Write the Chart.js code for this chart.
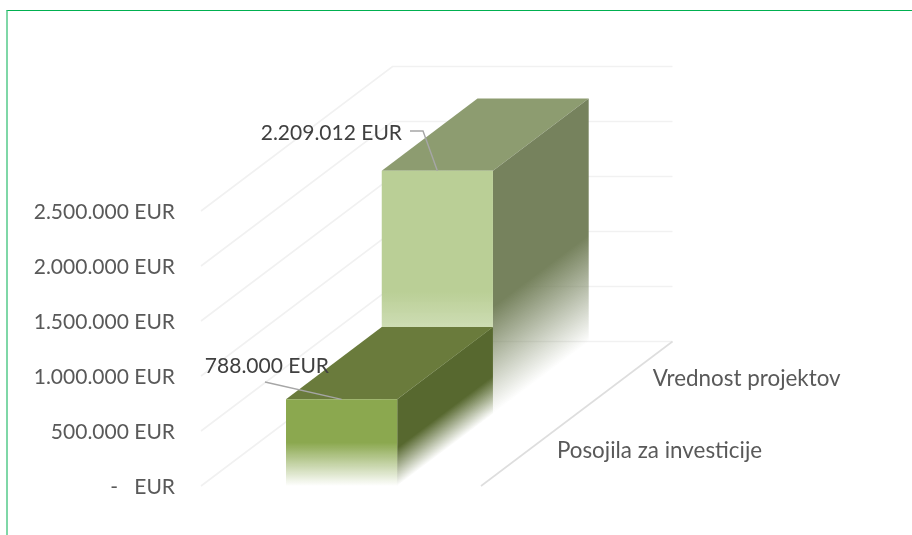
<!DOCTYPE html>
<html><head><meta charset="utf-8">
<style>
html,body{margin:0;padding:0;background:#fff;overflow:hidden}
#wrap{position:relative;width:912px;height:535px;overflow:hidden}
#frame{position:absolute;left:6px;top:10px;width:960px;height:560px;box-sizing:border-box;border:1px solid #00B050;border-left-color:#7FD7A7;border-left-width:2px}
canvas{position:absolute;left:0;top:0}
</style>
<script src="https://cdn.jsdelivr.net/npm/chart.js@4/dist/chart.umd.min.js"></script>
</head><body>
<div id="wrap"><div id="frame"></div><canvas id="c" width="912" height="535"></canvas></div>
<script>
const categories = ['Posojila za investicije', 'Vrednost projektov'];
const values = [788000, 2209012];
const tickStep = 500000;
const axisMax = 2500000;

const FONT = 'Lato, sans-serif';
const FACES = [
  {front:[139,168,79], top:'#6A7B3C', side:[87,104,47]},
  {front:[186,207,150], top:'#8D9C70', side:[118,130,93]}
];
const DEPTH_X = 191.5, DEPTH_Y = -144.5;
const GAP_FRACTION = 85/280, BAR_FRACTION = 111.2/280;
const LABEL_OFFSETS = [
  {x:329, y:366, leader:[[265,382]]},
  {x:402, y:133, leader:[[410,131],[423,131]]}
];

const fmt = v => String(v).replace(/\B(?=(\d{3})+(?!\d))/g,'.');
const rgba = (c,a) => `rgba(${c[0]},${c[1]},${c[2]},${a})`;

function poly(ctx, pts, fill){
  ctx.beginPath();
  pts.forEach((p,i)=> i ? ctx.lineTo(p[0],p[1]) : ctx.moveTo(p[0],p[1]));
  ctx.closePath();
  ctx.fillStyle = fill; ctx.fill();
}
function fade(ctx, a, b, col, stop){
  const g = ctx.createLinearGradient(a[0],a[1],b[0],b[1]);
  g.addColorStop(0, rgba(col,1));
  g.addColorStop(stop, rgba(col,1));
  g.addColorStop(1, rgba(col,0));
  return g;
}

const scene3d = {
  id:'scene3d',
  beforeDatasetsDraw(chart){
    const {ctx, chartArea:ca, scales:{y}} = chart;
    const zero = y.getPixelForValue(0);
    ctx.save(); ctx.lineWidth = 1.6;
    // value gridlines on left and back walls
    y.ticks.forEach(t=>{
      const py = y.getPixelForValue(t.value);
      ctx.strokeStyle = '#F1F1F1';
      ctx.beginPath();
      ctx.moveTo(ca.left, py);
      ctx.lineTo(ca.left+DEPTH_X, py+DEPTH_Y);
      ctx.lineTo(ca.right+DEPTH_X, py+DEPTH_Y);
      ctx.stroke();
    });
    // floor edge
    ctx.strokeStyle = '#DEDEDE';
    ctx.beginPath();
    ctx.moveTo(ca.right, zero);
    ctx.lineTo(ca.right+DEPTH_X, zero+DEPTH_Y);
    ctx.stroke();
    ctx.restore();
  },
  afterDatasetsDraw(chart){
    const {ctx, chartArea:ca, scales:{x,y}} = chart;
    const zero = y.getPixelForValue(0), W = ca.right-ca.left;
    const meta = chart.getDatasetMeta(0);
    ctx.save();
    const fx0 = ca.left + W*GAP_FRACTION, fw = W*BAR_FRACTION;
    // bars: back to front
    for(let i=values.length-1;i>=0;i--){
      const el = meta.data[i], f = FACES[i];
      const d0 = (el.x-el.width/2-ca.left)/W, d1 = (el.x+el.width/2-ca.left)/W;
      const h = zero - y.getPixelForValue(values[i]);
      const P = (fx,d,hh)=>[fx0+fx*fw+DEPTH_X*d, zero+DEPTH_Y*d-hh];
      // top
      poly(ctx,[P(0,d0,h),P(1,d0,h),P(1,d1,h),P(0,d1,h)],f.top);
      // side
      const A=P(1,d0,h);
      poly(ctx,[A,P(1,d1,h),P(1,d1,0),P(1,d0,0)],
        fade(ctx,A,[A[0]+0.6*0.8*h,A[1]+0.8*0.8*h],f.side,0.56));
      // front
      const T=P(0,d0,h), B=P(0,d0,0);
      poly(ctx,[T,P(1,d0,h),P(1,d0,0),B],fade(ctx,T,B,f.front,0.5));
    }
    // data labels with leader lines
    ctx.font = '21px '+FONT;
    ctx.textAlign='right'; ctx.textBaseline='middle';
    values.forEach((v,i)=>{
      const el = meta.data[i], d0=(el.x-el.width/2-ca.left)/W;
      const h = zero - y.getPixelForValue(v);
      const ax = fx0+fw/2+DEPTH_X*d0, ay = zero+DEPTH_Y*d0-h;
      const o = LABEL_OFFSETS[i];
      ctx.strokeStyle='#A6A6A6'; ctx.lineWidth=1.4;
      ctx.beginPath();
      o.leader.forEach((p,k)=> k?ctx.lineTo(p[0],p[1]):ctx.moveTo(p[0],p[1]));
      ctx.lineTo(ax,ay); ctx.stroke();
      ctx.fillStyle='#404040';
      ctx.fillText(fmt(v)+' EUR', o.x, o.y);
    });
    // category labels along the floor edge
    ctx.font = '22.4px '+FONT;
    ctx.textAlign='left'; ctx.fillStyle='#595959';
    categories.forEach((c,i)=>{
      const d=(x.getPixelForValue(i)-ca.left)/W;
      ctx.fillText(c, ca.right+DEPTH_X*d+28, zero+DEPTH_Y*d+1);
    });
    ctx.restore();
  }
};

new Chart(document.getElementById('c'),{
  type:'bar',
  data:{labels:categories,datasets:[{data:values,backgroundColor:'rgba(0,0,0,0)',barPercentage:1,categoryPercentage:1}]},
  options:{
    responsive:false,animation:false,
    layout:{padding:{top:211,bottom:49,right:431,left:0}},
    plugins:{legend:{display:false},tooltip:{enabled:false}},
    scales:{
      x:{display:false},
      y:{min:0,max:axisMax,
        afterFit(s){s.width=201;},
        border:{display:false},
        grid:{display:false,drawTicks:false},
        ticks:{stepSize:tickStep,padding:26,labelOffset:1,color:'#595959',font:{family:FONT,size:21},
          callback:v=> v===0 ? '-   EUR' : fmt(v)+' EUR'}
      }
    }
  },
  plugins:[scene3d]
});
</script>
</body></html>
